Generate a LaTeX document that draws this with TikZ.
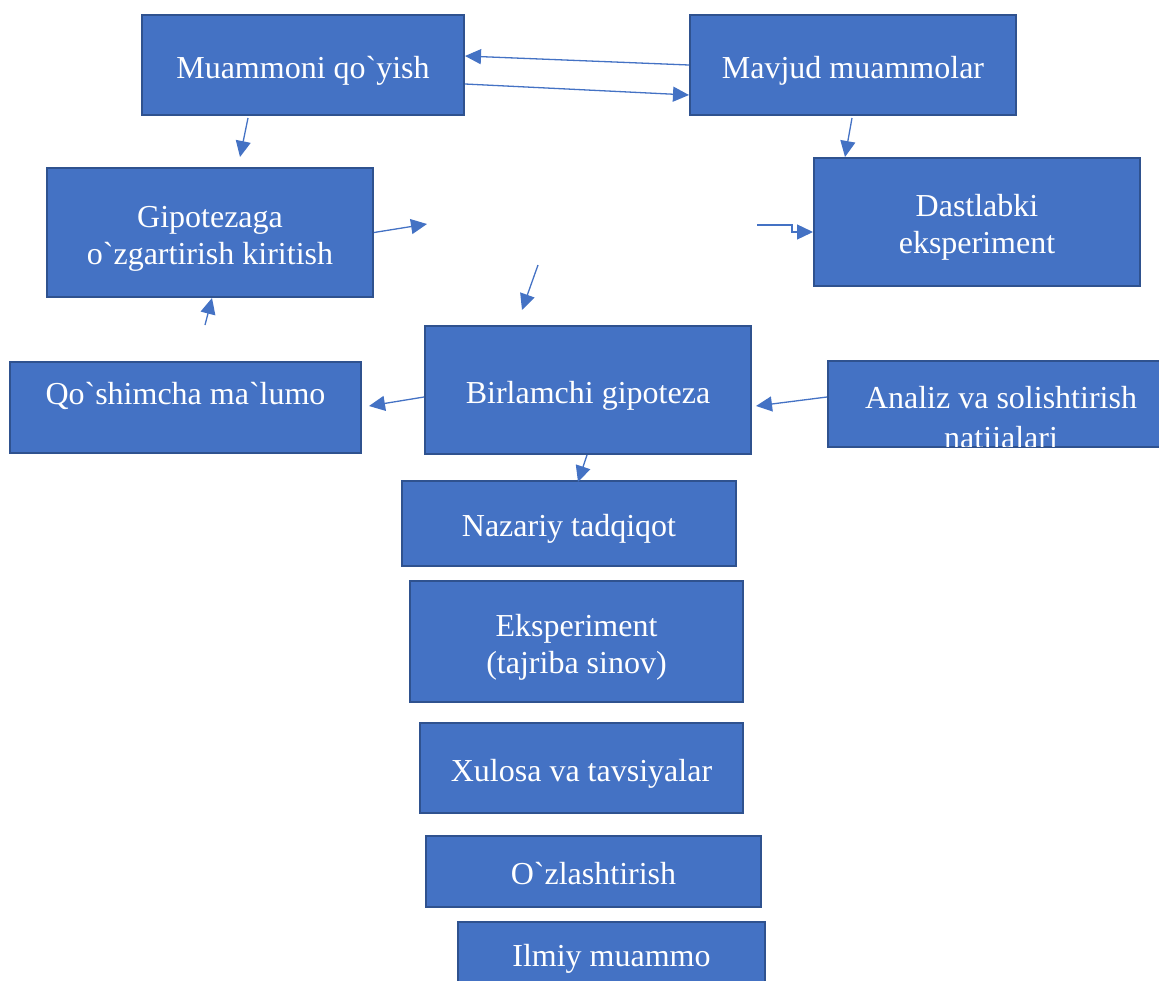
\documentclass[tikz,border=0pt]{standalone}
\usepackage{fontspec}
\setmainfont{Liberation Serif}
\usetikzlibrary{arrows.meta}
\definecolor{boxfill}{HTML}{4472C4}
\definecolor{boxline}{HTML}{2F528F}
\newcommand\grv{\textasciigrave{}}
\tikzset{
 bx/.style={draw=boxline, fill=boxfill, line width=2pt, inner sep=0pt},
 btxt/.style={text=white, align=center, font=\fontsize{32}{37}\selectfont, inner sep=0pt},
 arr/.style={draw=boxfill, line width=1.3pt, -{Triangle[length=16pt,width=15pt]}},
}
\begin{document}
\begin{tikzpicture}[x=1pt,y=-1pt]
\useasboundingbox (0,0) rectangle (1159,980);
\clip (0,0) rectangle (1159,980);
\node[bx, minimum width=322pt, minimum height=100pt] (muam) at (303,65) {};
\node[btxt] (muamT) at ([yshift=-6pt]muam.center) {Muammoni qo\grv yish};
\node[bx, minimum width=326pt, minimum height=100pt] (mav) at (853,65) {};
\node[btxt] (mavT) at ([yshift=-6pt]mav.center) {Mavjud muammolar};
\node[bx, minimum width=326pt, minimum height=129pt] (gip) at (210,232.5) {};
\node[btxt] (gipT) at ([yshift=-6pt]gip.center) {Gipotezaga\\o\grv zgartirish kiritish};
\node[bx, minimum width=326pt, minimum height=128pt] (dast) at (977,222) {};
\node[btxt] (dastT) at ([yshift=-5pt]dast.center) {Dastlabki\\eksperiment};
\node[bx, minimum width=351pt, minimum height=91pt] (qo) at (185.5,407.5) {};
\node[btxt] (qoT) at ([yshift=12pt]qo.center) {Qo\grv shimcha ma\grv lumo};
\node[bx, minimum width=326pt, minimum height=128pt] (bir) at (588,390) {};
\node[btxt] (birT) at ([yshift=-6pt]bir.center) {Birlamchi gipoteza};
\node[bx, minimum width=342pt, minimum height=86pt] (an) at (999,404) {};
\begin{scope}
\clip (829,362) rectangle (1159,446);
\node[btxt, font=\fontsize{32}{40}\selectfont] (anT) at (1001,421) {Analiz va solishtirish\\natijalari};
\end{scope}
\node[bx, minimum width=334pt, minimum height=85pt] (naz) at (569,523.5) {};
\node[btxt] (nazT) at ([yshift=-5pt]naz.center) {Nazariy tadqiqot};
\node[bx, minimum width=333pt, minimum height=121pt] (eks) at (576.5,641.5) {};
\node[btxt] (eksT) at ([yshift=-6pt]eks.center) {Eksperiment\\(tajriba sinov)};
\node[bx, minimum width=323pt, minimum height=90pt] (xul) at (581.5,768) {};
\node[btxt] (xulT) at ([yshift=-6pt]xul.center) {Xulosa va tavsiyalar};
\node[bx, minimum width=335pt, minimum height=71pt] (ozl) at (593.5,871.5) {};
\node[btxt] (ozlT) at ([yshift=-2pt]ozl.center) {O\grv zlashtirish};
\node[bx, minimum width=307pt, minimum height=68pt] (ilm) at (611.5,956) {};
\node[btxt] (ilmT) at ([yshift=-3pt]ilm.center) {Ilmiy muammo};

\coordinate (c1) at (240,157);
\coordinate (c2) at (427,224);
\coordinate (c3) at (757,225);
\coordinate (c4) at (538,265);
\coordinate (c5) at (522,310);
\coordinate (c6) at (205,325);

\draw[arr] (mav.west) -- ([yshift=9pt]muam.east);
\draw[arr] ([yshift=-19pt]muam.east) -- ([yshift=-30pt]mav.west);
\draw[arr] ([xshift=-55pt,yshift=-2pt]muam.south) -- (c1);
\draw[arr] ([xshift=-1pt,yshift=-2pt]mav.south) -- ([xshift=-132pt]dast.north);
\draw[arr] (gip.east) -- (c2);
\draw[arr] (c3) -- ++(35,0) |- ([yshift=-10pt]dast.west);
\draw[arr] (c4) -- (c5);
\draw[arr] (c6) -- ([xshift=2pt]gip.south);
\draw[arr] ([yshift=-7pt]bir.west) -- ([xshift=7pt,yshift=1.5pt]qo.east);
\draw[arr] ([yshift=7pt]an.west) -- ([xshift=4pt,yshift=-16pt]bir.east);
\draw[arr] ([xshift=-1pt]bir.south) -- ([xshift=9pt,yshift=-2pt]naz.north);
\end{tikzpicture}
\end{document}
